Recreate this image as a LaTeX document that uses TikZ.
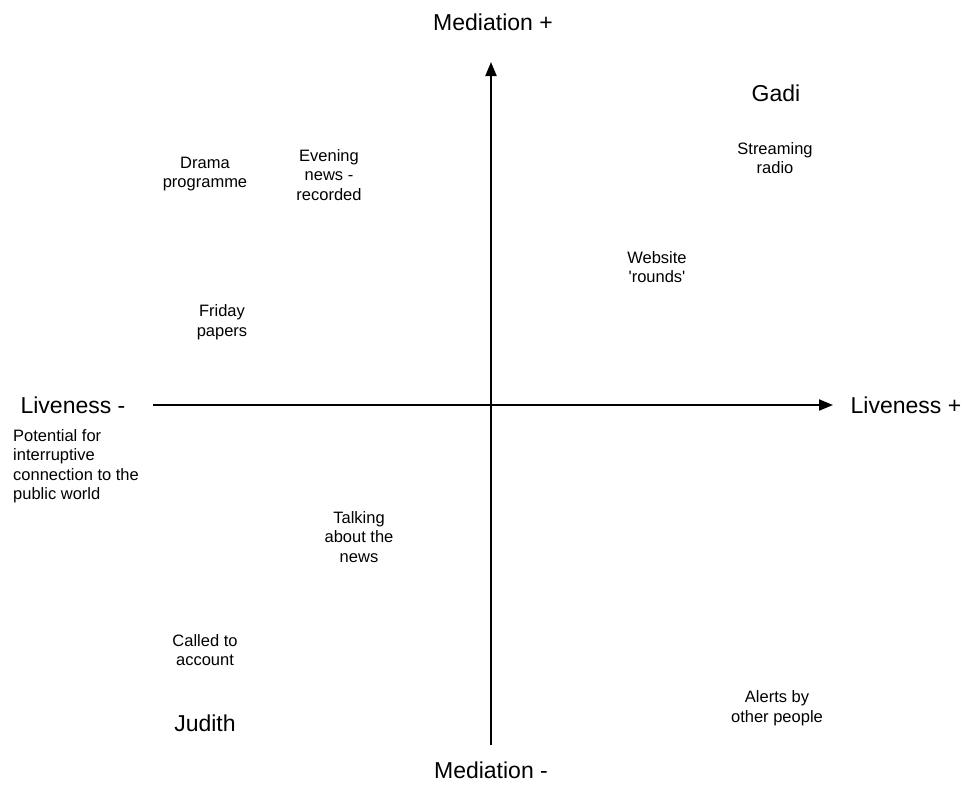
\documentclass[tikz,border=0pt]{standalone}
\usepackage{fontspec}
\setmainfont{Liberation Sans}
\usetikzlibrary{arrows.meta}
\tikzset{
  big/.style={font=\fontsize{23}{27}\selectfont, inner sep=0pt, anchor=center},
  small/.style={font=\fontsize{16.5}{19.5}\selectfont, align=center, inner sep=0pt, anchor=center},
  axis/.style={line width=2pt, -{Triangle[length=14pt,width=11pt]}}
}
\begin{document}
\begin{tikzpicture}[x=1pt,y=-1pt]
\useasboundingbox (0,0) rectangle (972,785);
% axes
\coordinate (vb) at (491,745);
\coordinate (vt) at (491,62);
\coordinate (hl) at (153,405);
\coordinate (hr) at (833,405);
\draw[axis] (vb) -- (vt);
\draw[axis] (hl) -- (hr);
% axis labels
\node[big] (medp) at (493,22) {Mediation +};
\node[big] (medm) at (491,770) {Mediation -};
\node[big] (livm) at (73,405) {Liveness -};
\node[big] (livp) at (906,405) {Liveness +};
% names
\node[big] (gadi) at (776,93) {Gadi};
\node[big] (judith) at (205,723) {Judith};
% items
\node[small] (stream) at (775,158) {Streaming\\radio};
\node[small] (web) at (657,267) {Website\\\textquotesingle rounds\textquotesingle};
\node[small] (drama) at (205,174) {Drama\\programme};
\node[small] (evening) at (329,175) {Evening\\news -\\recorded};
\node[small] (friday) at (222,322) {Friday\\papers};
\node[small, align=left, anchor=north west] (potential) at (13,429) {Potential for\\interruptive\\connection to the\\public world};
\node[small] (talking) at (359,537) {Talking\\about the\\news};
\node[small] (called) at (205,650) {Called to\\account};
\node[small] (alerts) at (777,708) {Alerts by\\other people};
\end{tikzpicture}
\end{document}
